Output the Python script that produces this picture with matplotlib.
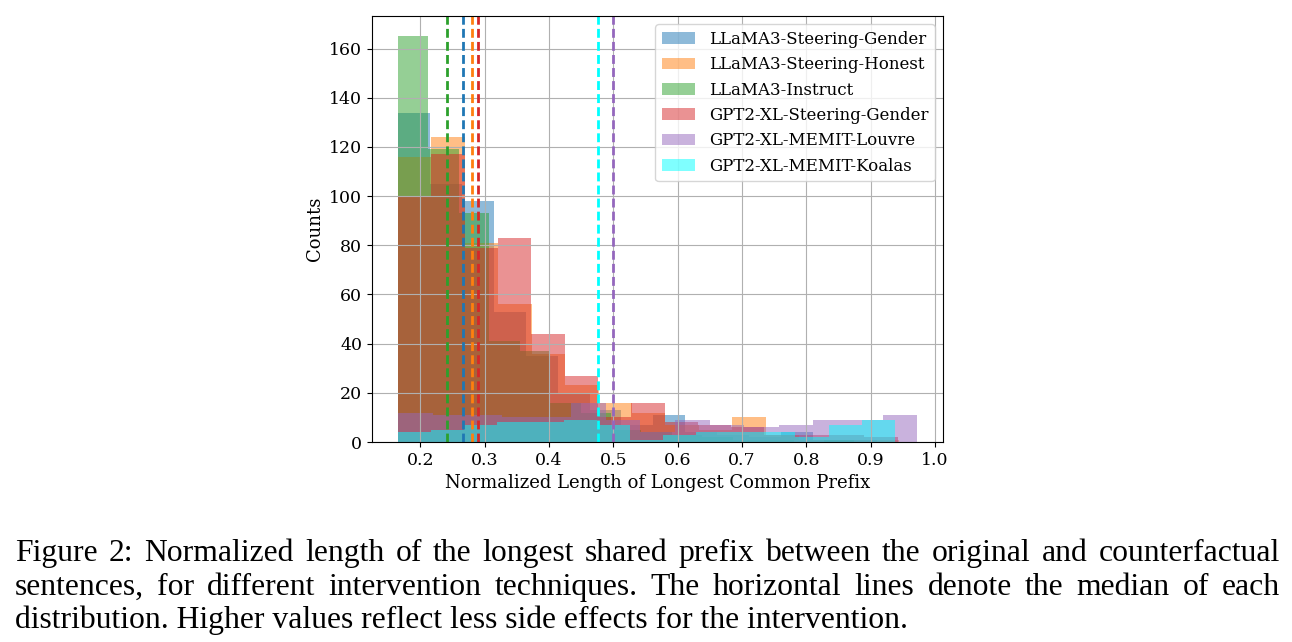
import numpy as np
import matplotlib
matplotlib.use("Agg")
import matplotlib.pyplot as plt

plt.rcParams['font.family'] = ['DejaVu Serif']
plt.rcParams['font.size'] = 12
plt.rcParams['axes.labelsize'] = 13
plt.rcParams['xtick.labelsize'] = 12.5
plt.rcParams['ytick.labelsize'] = 12.5

#### histogram data (15 bins per series) ###############################
labels = ['LLaMA3-Steering-Gender', 'LLaMA3-Steering-Honest', 'LLaMA3-Instruct',
          'GPT2-XL-Steering-Gender', 'GPT2-XL-MEMIT-Louvre', 'GPT2-XL-MEMIT-Koalas']
colors = ['tab:blue', 'tab:orange', 'tab:green', 'tab:red', 'tab:purple', 'cyan']

# min / max of each distribution
bin_lo = [0.1654, 0.1654, 0.1654, 0.1654, 0.1654, 0.1654]
bin_hi = [0.9096, 0.9445, 0.8747, 0.9421, 0.9724, 0.9375]

steer_gender = [134, 105, 98, 53, 35, 20, 13, 7, 11, 4, 3, 2, 4, 1, 1]
steer_honest = [116, 124, 81, 56, 36, 23, 16, 12, 7, 5, 10, 3, 1, 1, 1]
instruct = [165, 119, 93, 41, 37, 16, 12, 5, 4, 3, 2, 1, 1, 0, 1]
gpt2_gender = [100, 117, 79, 83, 44, 27, 10, 16, 8, 7, 6, 3, 3, 3, 2]
memit_louvre = [12, 11, 11, 10, 10, 16, 9, 4, 9, 7, 6, 7, 9, 9, 11]
memit_koalas = [4, 5, 7, 8, 8, 9, 7, 1, 3, 4, 4, 4, 2, 7, 9]
counts = [steer_gender, steer_honest, instruct, gpt2_gender, memit_louvre, memit_koalas]

medians = [0.266, 0.281, 0.242, 0.290, 0.500, 0.476]

caption = [
    "Figure 2: Normalized length of the longest shared prefix between the original and counterfactual",
    "sentences, for different intervention techniques.  The horizontal lines denote the median of each",
    "distribution. Higher values reflect less side effects for the intervention.",
]


fig = plt.figure(figsize=(12.92, 6.42), dpi=100)
ax = fig.add_axes([0.288, 0.3115, 0.442, 0.6635])

for lo, hi, c, col, lab in zip(bin_lo, bin_hi, counts, colors, labels):
    edges = np.linspace(lo, hi, len(c) + 1)
    ax.hist(edges[:-1], bins=edges, weights=c, alpha=0.5, color=col, label=lab)

for m, col in zip(medians, colors):
    ax.axvline(m, color=col, linestyle='--', linewidth=2, dashes=(3.2, 1.5))

ax.set_xlabel('Normalized Length of Longest Common Prefix')
ax.set_ylabel('Counts')
ax.set_xticks(np.arange(0.2, 1.01, 0.1))
ax.set_yticks(np.arange(0, 161, 20))
ax.legend(loc='upper right')
ax.grid(True)

# caption below the chart, justified like the paper
fig.canvas.draw()
renderer = fig.canvas.get_renderer()
left, right = 15, 1280
baselines = [561, 595, 628]
W, H = fig.bbox.width, fig.bbox.height
for i, (line, yb) in enumerate(zip(caption, baselines)):
    kw = dict(family='Liberation Serif', fontsize=22.8, va='baseline', ha='left')
    if i == len(caption) - 1:
        fig.text(left / W, 1 - yb / H, line, **kw)
        continue
    words = line.split()
    objs = [fig.text(0, 1 - yb / H, w, **kw) for w in words]
    widths = [o.get_window_extent(renderer).width for o in objs]
    gap = (right - left - sum(widths)) / (len(words) - 1)
    x = left
    for o, w in zip(objs, widths):
        o.set_x(x / W)
        x += w + gap

fig.savefig('out.png', dpi=100)
